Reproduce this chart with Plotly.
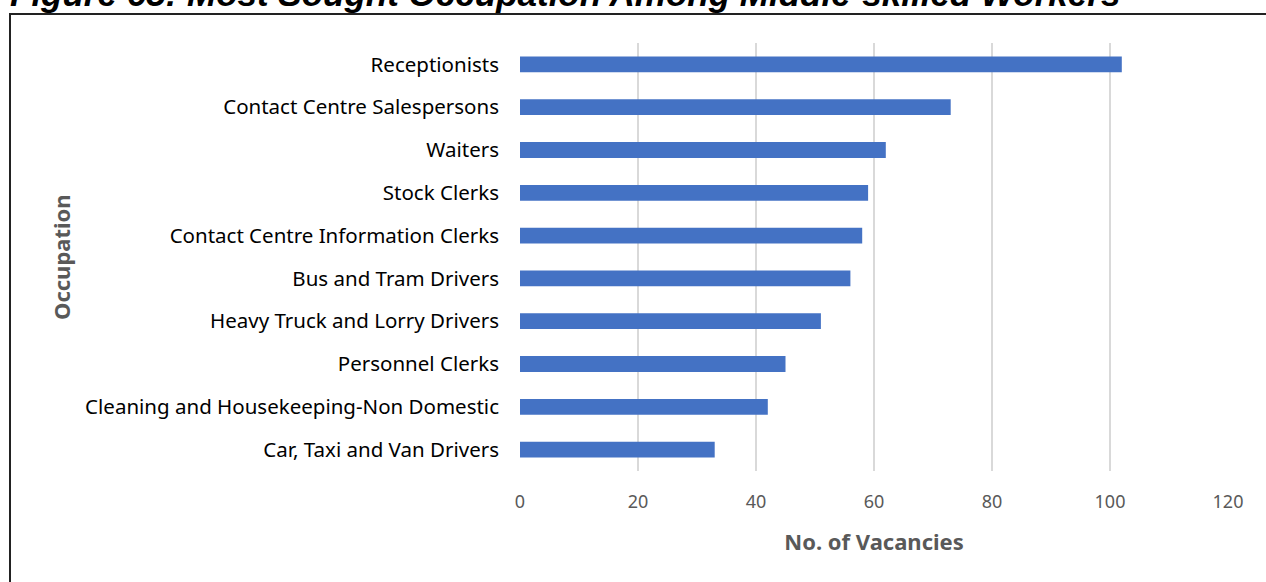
import plotly.graph_objects as go

occupations = [
    "Receptionists",
    "Contact Centre Salespersons",
    "Waiters",
    "Stock Clerks",
    "Contact Centre Information Clerks",
    "Bus and Tram Drivers",
    "Heavy Truck and Lorry Drivers",
    "Personnel Clerks",
    "Cleaning and Housekeeping-Non Domestic",
    "Car, Taxi and Van Drivers",
]
vacancies = [102, 73, 62, 59, 58, 56, 51, 45, 42, 33]
x_ticks = [0, 20, 40, 60, 80, 100, 120]

title_text = "Figure 65: Most Sought Occupation Among Middle-skilled Workers"
x_title = "No. of Vacancies"
y_title = "Occupation"

fig = go.Figure(
    go.Bar(
        x=vacancies,
        y=occupations,
        orientation="h",
        marker=dict(color="#4472C4", line=dict(width=0)),
        width=0.37,
        hoverinfo="x+y",
    )
)

fig.update_layout(
    width=1266,
    height=582,
    margin=dict(l=520, r=38, t=43, b=111),
    paper_bgcolor="white",
    plot_bgcolor="white",
    showlegend=False,
    font=dict(family="Noto Sans", color="#000000"),
)

fig.update_xaxes(
    range=[0, 120],
    tickvals=x_ticks,
    ticktext=[str(v) for v in x_ticks],
    showgrid=True,
    gridcolor="#D9D9D9",
    gridwidth=1.5,
    zeroline=False,
    showline=False,
    ticks="",
    tickfont=dict(family="Noto Sans", size=18, color="#595959"),
    ticklabelstandoff=18,
    title=dict(text="<b>" + x_title + "</b>", font=dict(family="Noto Sans", size=22, color="#595959"), standoff=22),
)

fig.update_yaxes(
    categoryorder="array",
    categoryarray=occupations[::-1],
    showgrid=False,
    zeroline=False,
    showline=False,
    ticks="",
    tickfont=dict(family="Noto Sans", size=20.5, color="#000000"),
    ticklabelstandoff=20,
)

# y-axis title placed as rotated annotation
fig.add_annotation(
    text="<b>" + y_title + "</b>",
    xref="paper", yref="paper",
    x=(61 - 520) / 708, y=(471 - 257) / 428,
    xanchor="center", yanchor="middle",
    textangle=-90,
    showarrow=False,
    font=dict(family="Noto Sans", size=22, color="#595959"),
)

# cropped figure title (cut off at the top edge, as in the source)
fig.add_annotation(
    text="<b><i>" + title_text + "</i></b>",
    xref="paper", yref="paper",
    x=(8 - 520) / 708, y=1 + (43 - 15) / 428,
    xanchor="left", yanchor="bottom",
    showarrow=False,
    font=dict(family="Liberation Sans", size=35, color="#000000"),
)

# frame border
fig.add_shape(
    type="rect",
    xref="paper", yref="paper",
    x0=(10 - 520) / 708, x1=(1300 - 520) / 708,
    y0=(471 - 620) / 428, y1=1 + (43 - 14) / 428,
    line=dict(color="#222222", width=2),
    fillcolor="rgba(0,0,0,0)",
    layer="below",
)

fig.write_html(
    "out.html",
    config={"displayModeBar": False},
    post_script="document.body.style.margin='0';",
)
